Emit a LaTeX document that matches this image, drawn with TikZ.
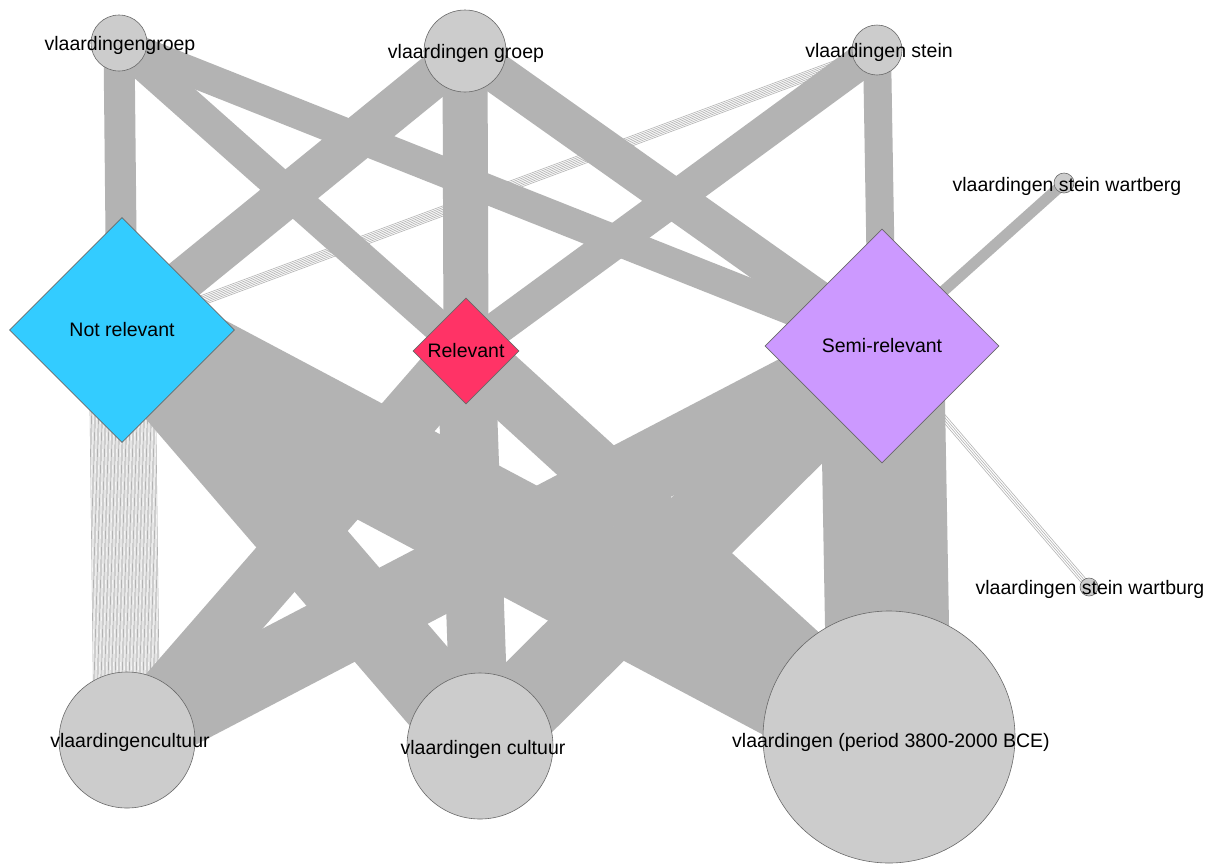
\documentclass[tikz,border=0pt]{standalone}
\usepackage{fontspec}
\setmainfont{Liberation Sans}
\usetikzlibrary{shapes.geometric,backgrounds}
\definecolor{edgegray}{RGB}{179,179,179}
\definecolor{nodegray}{RGB}{204,204,204}
\definecolor{nodeline}{RGB}{105,105,105}
\definecolor{notrel}{RGB}{51,204,255}
\definecolor{rel}{RGB}{255,51,102}
\definecolor{semirel}{RGB}{204,153,255}
\begin{document}
\begin{tikzpicture}[x=1pt,y=-1pt,
  term/.style={circle,fill=nodegray,draw=nodeline,line width=0.6pt,inner sep=0pt,minimum size=#1},
  cat/.style={diamond,draw=nodeline,line width=0.6pt,inner sep=0pt,minimum width=#1,minimum height=#1,font=\fontsize{19.5}{22}\selectfont},
  lbl/.style={inner sep=0pt,font=\fontsize{19.5}{22}\selectfont},
  band/.style={draw=edgegray,line width=#1,line cap=butt},
  thinline/.style={draw=edgegray,line width=0.6pt}
]
\useasboundingbox (0,0) rectangle (1214,863);
% nodes
\node[term=56pt] (vg1) at (119,43) {};
\node[term=82pt] (vg2) at (465,51) {};
\node[term=50pt] (vs) at (877,50) {};
\node[term=20pt] (vswb) at (1064,183) {};
\node[term=18pt] (vswu) at (1089,587) {};
\node[term=136pt] (vc1) at (127,740) {};
\node[term=146pt] (vc2) at (480,746) {};
\node[term=252pt] (vp) at (889,737) {};
\node[cat=225pt, fill=notrel] (nr) at (122,330) {Not relevant};
\node[cat=106pt, fill=rel] (r) at (466,351) {Relevant};
\node[cat=234pt, fill=semirel] (sr) at (882,346) {Semi-relevant};
% labels
\node[lbl] (lvg1) at (120,45) {vlaardingengroep};
\node[lbl] (lvg2) at (466,53) {vlaardingen groep};
\node[lbl] (lvs) at (879,52) {vlaardingen stein};
\node[lbl] (lvswb) at (1067,186) {vlaardingen stein wartberg};
\node[lbl] (lvswu) at (1090,589) {vlaardingen stein wartburg};
\node[lbl] (lvc1) at (130,742) {vlaardingencultuur};
\node[lbl] (lvc2) at (483,749) {vlaardingen cultuur};
\node[lbl] (lvp) at (891,742) {vlaardingen (period 3800-2000 BCE)};
% edges
\begin{pgfonlayer}{background}
\fill[white] (0,0) rectangle (1214,863);
\foreach \i in {-33,-31.6,...,33.1}
  \draw[thinline,transform canvas={shift={(\i,0)}}] (nr.center) -- (vc1.center);
\foreach \i in {-4.8,-3.2,...,4.9}
  \draw[thinline,transform canvas={shift={(0.348*\i,0.938*\i)}}] (vs.center) -- (nr.center);
\foreach \i in {-3,-1,1,3}
  \draw[thinline,transform canvas={shift={(0.758*\i,-0.651*\i)}}] (sr.center) -- (vswu.center);
\draw[band=31pt] (vg1.center) -- (nr.center);
\draw[band=32pt] (vg1.center) -- (r.center);
\draw[band=30pt] (vg1.center) -- (sr.center);
\draw[band=43pt] (vg2.center) -- (nr.center);
\draw[band=45pt] (vg2.center) -- (r.center);
\draw[band=40pt] (vg2.center) -- (sr.center);
\draw[band=34pt] (vs.center) -- (r.center);
\draw[band=28pt] (vs.center) -- (sr.center);
\draw[band=11pt] (vswb.center) -- (sr.center);
\draw[band=80pt] (nr.center) -- (vc2.center);
\draw[band=114pt] (nr.center) -- (vp.center);
\draw[band=58pt] (r.center) -- (vc1.center);
\draw[band=58pt] (r.center) -- (vc2.center);
\draw[band=60pt] (r.center) -- (vp.center);
\draw[band=72pt] (sr.center) -- (vc1.center);
\draw[band=82pt] (sr.center) -- (vc2.center);
\draw[band=124pt] (sr.center) -- (vp.center);
\end{pgfonlayer}
\end{tikzpicture}
\end{document}
